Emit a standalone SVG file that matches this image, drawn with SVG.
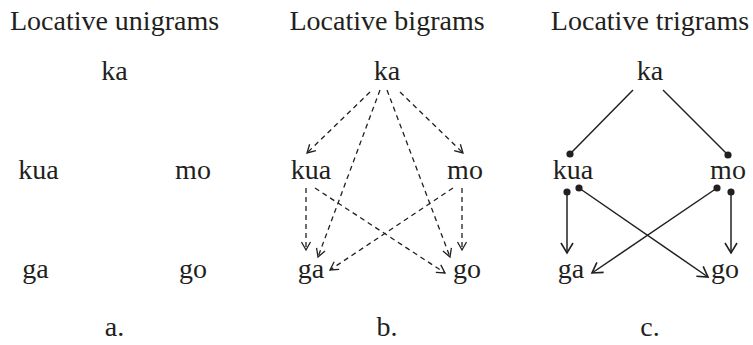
<svg xmlns="http://www.w3.org/2000/svg" width="753" height="345" viewBox="0 0 753 345" font-family="Liberation Serif, DejaVu Serif, serif">
<style>
text{font-size:28px;fill:#231f20;text-anchor:middle}
.d{stroke:#231f20;stroke-width:1.3;stroke-dasharray:5 4;fill:none}
.s{stroke:#231f20;stroke-width:1.5;fill:none}
</style>
<defs>
<marker id="ob" markerUnits="userSpaceOnUse" markerWidth="12" markerHeight="12" refX="8" refY="4.5" orient="auto" overflow="visible">
<path d="M0,0 L8,4.5 L0,9" fill="none" stroke="#231f20" stroke-width="1.3"/>
</marker>
<marker id="oc" markerUnits="userSpaceOnUse" markerWidth="14" markerHeight="14" refX="10" refY="6" orient="auto" overflow="visible">
<path d="M0,0 L10,6 L0,12" fill="none" stroke="#231f20" stroke-width="1.6"/>
</marker>
<marker id="dot" markerUnits="userSpaceOnUse" markerWidth="10" markerHeight="10" refX="5" refY="5" overflow="visible">
<circle cx="5" cy="5" r="3.6" fill="#231f20"/>
</marker>
</defs>
<g id="titles">
<text x="114.5" y="30">Locative unigrams</text>
<text x="387" y="30">Locative bigrams</text>
<text x="650" y="30" font-family="Liberation Serif">Locative trigrams</text>
</g>
<g id="panel-a">
<g id="a-ka"><text x="114.5" y="80">ka</text></g>
<g id="a-kua"><text x="38.5" y="179">kua</text></g>
<g id="a-mo"><text x="193" y="179">mo</text></g>
<g id="a-ga"><text x="35.5" y="278">ga</text></g>
<g id="a-go"><text x="193" y="278">go</text></g>
<g id="a-label"><text x="114.5" y="336">a.</text></g>
</g>
<g id="panel-b">
<g id="b-ka"><text x="387" y="80">ka</text></g>
<g id="b-kua"><text x="311" y="179">kua</text></g>
<g id="b-mo"><text x="465" y="179">mo</text></g>
<g id="b-ga"><text x="311" y="278">ga</text></g>
<g id="b-go"><text x="467" y="278">go</text></g>
<g id="b-label"><text x="387" y="336">b.</text></g>
</g>
<g id="panel-c">
<g id="c-ka"><text x="650" y="80">ka</text></g>
<g id="c-kua"><text x="573" y="179">kua</text></g>
<g id="c-mo"><text x="728" y="179">mo</text></g>
<g id="c-ga"><text x="571" y="278">ga</text></g>
<g id="c-go"><text x="725" y="278">go</text></g>
<g id="c-label"><text x="650" y="336">c.</text></g>
</g>
<g id="connectors">
<line class="d" x1="370" y1="92" x2="307" y2="153" marker-end="url(#ob)"/>
<line class="d" x1="380" y1="90" x2="318" y2="257" marker-end="url(#ob)"/>
<line class="d" x1="387" y1="90" x2="450" y2="257" marker-end="url(#ob)"/>
<line class="d" x1="400" y1="92" x2="463" y2="153" marker-end="url(#ob)"/>
<line class="d" x1="306" y1="188" x2="306" y2="250" marker-end="url(#ob)"/>
<line class="d" x1="462" y1="188" x2="462" y2="250" marker-end="url(#ob)"/>
<line class="d" x1="315" y1="188" x2="445" y2="273" marker-end="url(#ob)"/>
<line class="d" x1="453" y1="188" x2="330" y2="270" marker-end="url(#ob)"/>
<line class="s" x1="633" y1="90" x2="570" y2="154" marker-end="url(#dot)"/>
<line class="s" x1="663" y1="90" x2="728" y2="155" marker-end="url(#dot)"/>
<line class="s" x1="567" y1="192" x2="567" y2="253" marker-start="url(#dot)" marker-end="url(#oc)"/>
<line class="s" x1="579" y1="188" x2="708" y2="277" marker-start="url(#dot)" marker-end="url(#oc)"/>
<line class="s" x1="717" y1="188" x2="592" y2="273" marker-start="url(#dot)" marker-end="url(#oc)"/>
<line class="s" x1="731" y1="192" x2="731" y2="253" marker-start="url(#dot)" marker-end="url(#oc)"/>
</g>
</svg>
